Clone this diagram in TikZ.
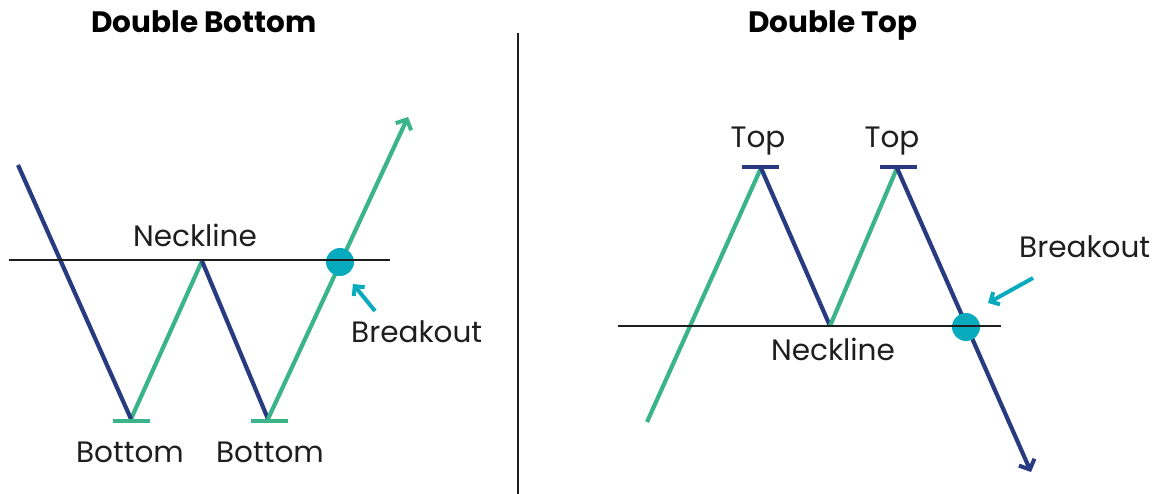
\documentclass[tikz,border=0pt]{standalone}
\usepackage{fontspec}
\setmainfont{Poppins}
\usetikzlibrary{arrows.meta}
\definecolor{navy}{HTML}{283A80}
\definecolor{mint}{HTML}{3BB48A}
\definecolor{teal2}{HTML}{08AABE}
\definecolor{ink}{HTML}{1E1E1E}
\tikzset{
  bluel/.style={navy, line width=4.2pt},
  greenl/.style={mint, line width=4.2pt},
  barl/.style={line width=4.5pt},
  neck/.style={ink, line width=1.6pt},
  tipa/.style={-{Straight Barb[length=8pt,width=17pt,line width=4pt]}},
  pointer/.style={teal2, line width=4pt, -{Straight Barb[length=7pt,width=14pt,line width=4pt]}},
  dotb/.style={circle, fill=teal2, minimum size=28pt, inner sep=0pt},
  lbl/.style={font=\fontsize{29.5}{34}\selectfont, text=ink, inner sep=0pt, anchor=base},
  ttl/.style={font=\fontsize{29.5}{34}\selectfont\bfseries, text=black, inner sep=0pt, anchor=base}
}
\begin{document}
\begin{tikzpicture}[x=1pt,y=-1pt]
\useasboundingbox (0,0) rectangle (1159,494);
% divider
\coordinate (d0) at (518,33);
\coordinate (d1) at (518,494);
\draw[ink, line width=2pt] (d0) -- (d1);
% titles
\node[ttl] (t1) at (204,33) {Double Bottom};
\node[ttl] (t2) at (833,33) {Double Top};
% ---- Double bottom ----
\coordinate (a0) at (18,165);
\coordinate (b1) at (131,419);
\coordinate (p1) at (202,261);
\coordinate (b2) at (268,419);
\coordinate (a1) at (408,117);
\coordinate (bb1l) at (113,421);
\coordinate (bb1r) at (150,421);
\coordinate (bb2l) at (251,421);
\coordinate (bb2r) at (288,421);
\coordinate (nl0) at (9,260);
\coordinate (nl1) at (390,260);
\coordinate (pl0) at (375,311);
\coordinate (pl1) at (353,284);
\draw[greenl] (b1) -- (p1);
\draw[bluel] (a0) -- (b1);
\draw[bluel] (p1) -- (b2);
\draw[greenl, tipa] (b2) -- (a1);
\draw[mint, barl] (bb1l) -- (bb1r);
\draw[mint, barl] (bb2l) -- (bb2r);
\node[dotb] (dl) at (340,262) {};
\draw[neck] (nl0) -- (nl1);
\draw[pointer] (pl0) -- (pl1);
\node[lbl] (nkl) at (195,247) {Neckline};
\node[lbl, anchor=base west] (brl) at (351,342) {Breakout};
\node[lbl] (bo1) at (130,462) {Bottom};
\node[lbl] (bo2) at (270,462) {Bottom};
% ---- Double top ----
\coordinate (g0) at (647,422);
\coordinate (tp1) at (761,168);
\coordinate (v) at (830,326);
\coordinate (tp2) at (897,168);
\coordinate (e) at (1031,472);
\coordinate (tb1l) at (742,167);
\coordinate (tb1r) at (779,167);
\coordinate (tb2l) at (880,167);
\coordinate (tb2r) at (917,167);
\coordinate (nr0) at (618,326);
\coordinate (nr1) at (1001,326);
\coordinate (pr0) at (1033,278);
\coordinate (pr1) at (988,303);
\draw[greenl] (g0) -- (tp1);
\draw[bluel] (tp1) -- (v);
\draw[greenl] (v) -- (tp2);
\draw[bluel, tipa] (tp2) -- (e);
\draw[navy, barl] (tb1l) -- (tb1r);
\draw[navy, barl] (tb2l) -- (tb2r);
\node[dotb] (dr) at (966,327) {};
\draw[neck] (nr0) -- (nr1);
\draw[pointer] (pr0) -- (pr1);
\node[lbl] (nkr) at (833,360) {Neckline};
\node[lbl, anchor=base west] (brr) at (1019,258) {Breakout};
\node[lbl] (tl1) at (758,148) {Top};
\node[lbl] (tl2) at (892,148) {Top};
\end{tikzpicture}
\end{document}
